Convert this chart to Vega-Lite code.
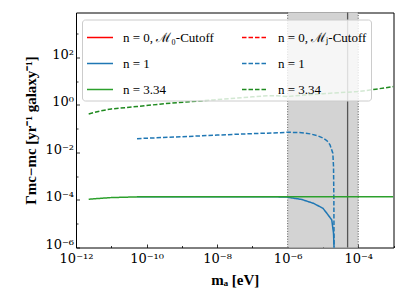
{
  "$schema": "https://vega.github.io/schema/vega-lite/v6.json",
  "width": 317.5,
  "height": 235,
  "autosize": "none",
  "padding": {"left": 76, "top": 12.5, "right": 13.5, "bottom": 57.5},
  "background": "white",
  "config": {
    "view": {"stroke": "black", "strokeWidth": 1},
    "axis": {
      "grid": false,
      "domain": false,
      "tickColor": "black",
      "tickWidth": 0.8,
      "labelFont": "DejaVu Serif",
      "labelFontSize": 13,
      "labelColor": "black",
      "titleFont": "Liberation Serif",
      "titleColor": "black",
      "titleFontSize": 15,
      "titleFontWeight": "bold",
      "labelFlush": false,
      "labelOverlap": false,
      "labelBound": false
    }
  },
  "datasets": {
    "curves": [
      {"s": "s1", "x": 5.37e-11, "y": 1.349e-4},
      {"s": "s1", "x": 1e-8, "y": 1.38e-4},
      {"s": "s1", "x": 3.16e-7, "y": 1.38e-4},
      {"s": "s1", "x": 9.55e-7, "y": 1.318e-4},
      {"s": "s1", "x": 2.51e-6, "y": 1.047e-4},
      {"s": "s1", "x": 5.37e-6, "y": 7.24e-5},
      {"s": "s1", "x": 1e-5, "y": 4.47e-5},
      {"s": "s1", "x": 1.29e-5, "y": 2.75e-5},
      {"s": "s1", "x": 1.78e-5, "y": 1.445e-5},
      {"s": "s1", "x": 1.995e-5, "y": 3.98e-6},
      {"s": "s1", "x": 2.1e-5, "y": 5e-7},
      {"s": "d1", "x": 5.37e-11, "y": 0.038},
      {"s": "d1", "x": 1e-9, "y": 0.0457},
      {"s": "d1", "x": 1e-8, "y": 0.0537},
      {"s": "d1", "x": 1e-7, "y": 0.0617},
      {"s": "d1", "x": 6.17e-7, "y": 0.0676},
      {"s": "d1", "x": 9.55e-7, "y": 0.0708},
      {"s": "d1", "x": 2.51e-6, "y": 0.0676},
      {"s": "d1", "x": 4.37e-6, "y": 0.0603},
      {"s": "d1", "x": 7.08e-6, "y": 0.0501},
      {"s": "d1", "x": 1.02e-5, "y": 0.0398},
      {"s": "d1", "x": 1.32e-5, "y": 0.0302},
      {"s": "d1", "x": 1.585e-5, "y": 0.0209},
      {"s": "d1", "x": 1.905e-5, "y": 0.00933},
      {"s": "d1", "x": 1.995e-5, "y": 0.00251},
      {"s": "d1", "x": 2.04e-5, "y": 1e-4},
      {"s": "d1", "x": 2.065e-5, "y": 5e-7},
      {"s": "s3", "x": 2.29e-12, "y": 1.07e-4},
      {"s": "s3", "x": 5.01e-12, "y": 1.175e-4},
      {"s": "s3", "x": 1e-11, "y": 1.259e-4},
      {"s": "s3", "x": 5.37e-11, "y": 1.349e-4},
      {"s": "s3", "x": 1e-9, "y": 1.38e-4},
      {"s": "s3", "x": 1e-6, "y": 1.38e-4},
      {"s": "s3", "x": 1e-3, "y": 1.38e-4},
      {"s": "d3", "x": 2.29e-12, "y": 0.417},
      {"s": "d3", "x": 5.01e-12, "y": 0.562},
      {"s": "d3", "x": 1e-11, "y": 0.676},
      {"s": "d3", "x": 5.37e-11, "y": 0.851},
      {"s": "d3", "x": 3.16e-10, "y": 1.122},
      {"s": "d3", "x": 7.94e-9, "y": 1.622},
      {"s": "d3", "x": 1e-7, "y": 2.188},
      {"s": "d3", "x": 2.88e-7, "y": 2.455},
      {"s": "d3", "x": 5.01e-7, "y": 2.399},
      {"s": "d3", "x": 9.55e-7, "y": 2.239},
      {"s": "d3", "x": 3.16e-6, "y": 2.63},
      {"s": "d3", "x": 1e-5, "y": 2.951},
      {"s": "d3", "x": 4.79e-5, "y": 3.428},
      {"s": "d3", "x": 1e-4, "y": 3.631},
      {"s": "d3", "x": 3.16e-4, "y": 4.571},
      {"s": "d3", "x": 1e-3, "y": 5.888}
    ]
  },
  "layer": [
    {
      "data": {"values": [{"x": 1e-6, "x2": 1e-4}]},
      "mark": {"type": "rect", "color": "#d3d3d3"},
      "encoding": {
        "x": {"field": "x", "type": "quantitative", "scale": {"type": "log", "domain": [1e-12, 1e-3], "nice": false}, "title": "mₐ [eV]"},
        "x2": {"field": "x2"}
      }
    },
    {
      "data": {"values": [{"x": 1e-6}, {"x": 1e-4}]},
      "mark": {"type": "rule", "color": "#444444", "strokeWidth": 0.9, "strokeDash": [1, 1.6]},
      "encoding": {
        "x": {"field": "x", "type": "quantitative", "title": "mₐ [eV]"}
      }
    },
    {
      "data": {"values": [{"x": 5e-5}]},
      "mark": {"type": "rule", "color": "#555555", "strokeWidth": 1.3},
      "encoding": {
        "x": {"field": "x", "type": "quantitative", "title": "mₐ [eV]"}
      }
    },
    {
      "data": {"name": "curves"},
      "transform": [{"filter": "datum.s == 's1' || datum.s == 'd1'"}],
      "mark": {"type": "line", "strokeWidth": 1.5, "clip": true},
      "encoding": {
        "x": {"field": "x", "type": "quantitative", "title": "mₐ [eV]"},
        "y": {"field": "y", "type": "quantitative", "scale": {"type": "log", "domain": [1e-6, 7700], "nice": false}, "title": "Γmc−mc [yr⁻¹ galaxy⁻¹]"},
        "color": {"field": "s", "type": "nominal",
          "scale": {"domain": ["s0", "s1", "s3", "d0", "d1", "d3"], "range": ["#ff0000", "#1f77b4", "#2ca02c", "#ff0000", "#1f77b4", "#1f8a1f"]},
          "legend": {"orient": "none", "legendX": 6, "legendY": 7, "columns": 2, "title": null, "symbolType": "stroke", "symbolSize": 676, "symbolStrokeWidth": 1.5, "labelOffset": 9, "padding": 4, "rowPadding": 5, "columnPadding": 25, "fillColor": "rgba(255,255,255,0.8)", "strokeColor": "#cccccc", "cornerRadius": 3, "labelFont": "Liberation Serif", "labelFontSize": 13, "labelColor": "black",
            "labelExpr": "datum.label == 's0' ? 'n = 0, ℳ₀-Cutoff' : datum.label == 'd0' ? 'n = 0, ℳⱼ-Cutoff' : (datum.label == 's3' || datum.label == 'd3') ? 'n = 3.34' : 'n = 1'"}
        },
        "strokeDash": {"field": "s", "type": "nominal",
          "scale": {"domain": ["s0", "s1", "s3", "d0", "d1", "d3"], "range": [[1, 0], [1, 0], [1, 0], [4.5, 2], [4.5, 2], [4.5, 2]]},
          "legend": {"orient": "none", "legendX": 6, "legendY": 7, "columns": 2, "title": null, "symbolType": "stroke", "symbolSize": 676, "symbolStrokeWidth": 1.5, "labelOffset": 9, "padding": 4, "rowPadding": 5, "columnPadding": 25, "fillColor": "rgba(255,255,255,0.8)", "strokeColor": "#cccccc", "cornerRadius": 3, "labelFont": "Liberation Serif", "labelFontSize": 13, "labelColor": "black",
            "labelExpr": "datum.label == 's0' ? 'n = 0, ℳ₀-Cutoff' : datum.label == 'd0' ? 'n = 0, ℳⱼ-Cutoff' : (datum.label == 's3' || datum.label == 'd3') ? 'n = 3.34' : 'n = 1'"}
        }
      }
    },
    {
      "data": {"name": "curves"},
      "transform": [{"filter": "datum.s == 's3' || datum.s == 'd3'"}],
      "mark": {"type": "line", "strokeWidth": 1.5, "clip": true},
      "encoding": {
        "x": {"field": "x", "type": "quantitative",
          "scale": {"type": "log", "domain": [1e-12, 1e-3], "nice": false},
          "axis": {
            "values": [1e-12, 1e-11, 1e-10, 1e-9, 1e-8, 1e-7, 1e-6, 1e-5, 1e-4, 1e-3],
            "labelExpr": "datum.value == 1e-12 ? '10⁻¹²' : datum.value == 1e-10 ? '10⁻¹⁰' : datum.value == 1e-8 ? '10⁻⁸' : datum.value == 1e-6 ? '10⁻⁶' : datum.value == 1e-4 ? '10⁻⁴' : ''",
            "tickSize": {"condition": {"test": "abs(round(log(datum.value)/LN10)) % 2 == 1", "value": -2}, "value": -3.5},
            "labelPadding": 8,
            "titlePadding": 6
          },
          "title": "mₐ [eV]"},
        "y": {"field": "y", "type": "quantitative",
          "scale": {"type": "log", "domain": [1e-6, 7700], "nice": false},
          "axis": {
            "values": [1e-6, 1e-5, 1e-4, 1e-3, 1e-2, 1e-1, 1, 10, 100, 1000],
            "labelExpr": "datum.value == 1e-6 ? '10⁻⁶' : datum.value == 1e-4 ? '10⁻⁴' : datum.value == 1e-2 ? '10⁻²' : datum.value == 1 ? '10⁰' : datum.value == 100 ? '10²' : ''",
            "tickSize": {"condition": {"test": "abs(round(log(datum.value)/LN10)) % 2 == 1", "value": -2}, "value": -3.5},
            "labelPadding": 6,
            "labelOffset": -3,
            "titlePadding": 6
          },
          "title": "Γmc−mc [yr⁻¹ galaxy⁻¹]"},
        "color": {"field": "s", "type": "nominal"},
        "strokeDash": {"field": "s", "type": "nominal"}
      }
    }
  ]
}
